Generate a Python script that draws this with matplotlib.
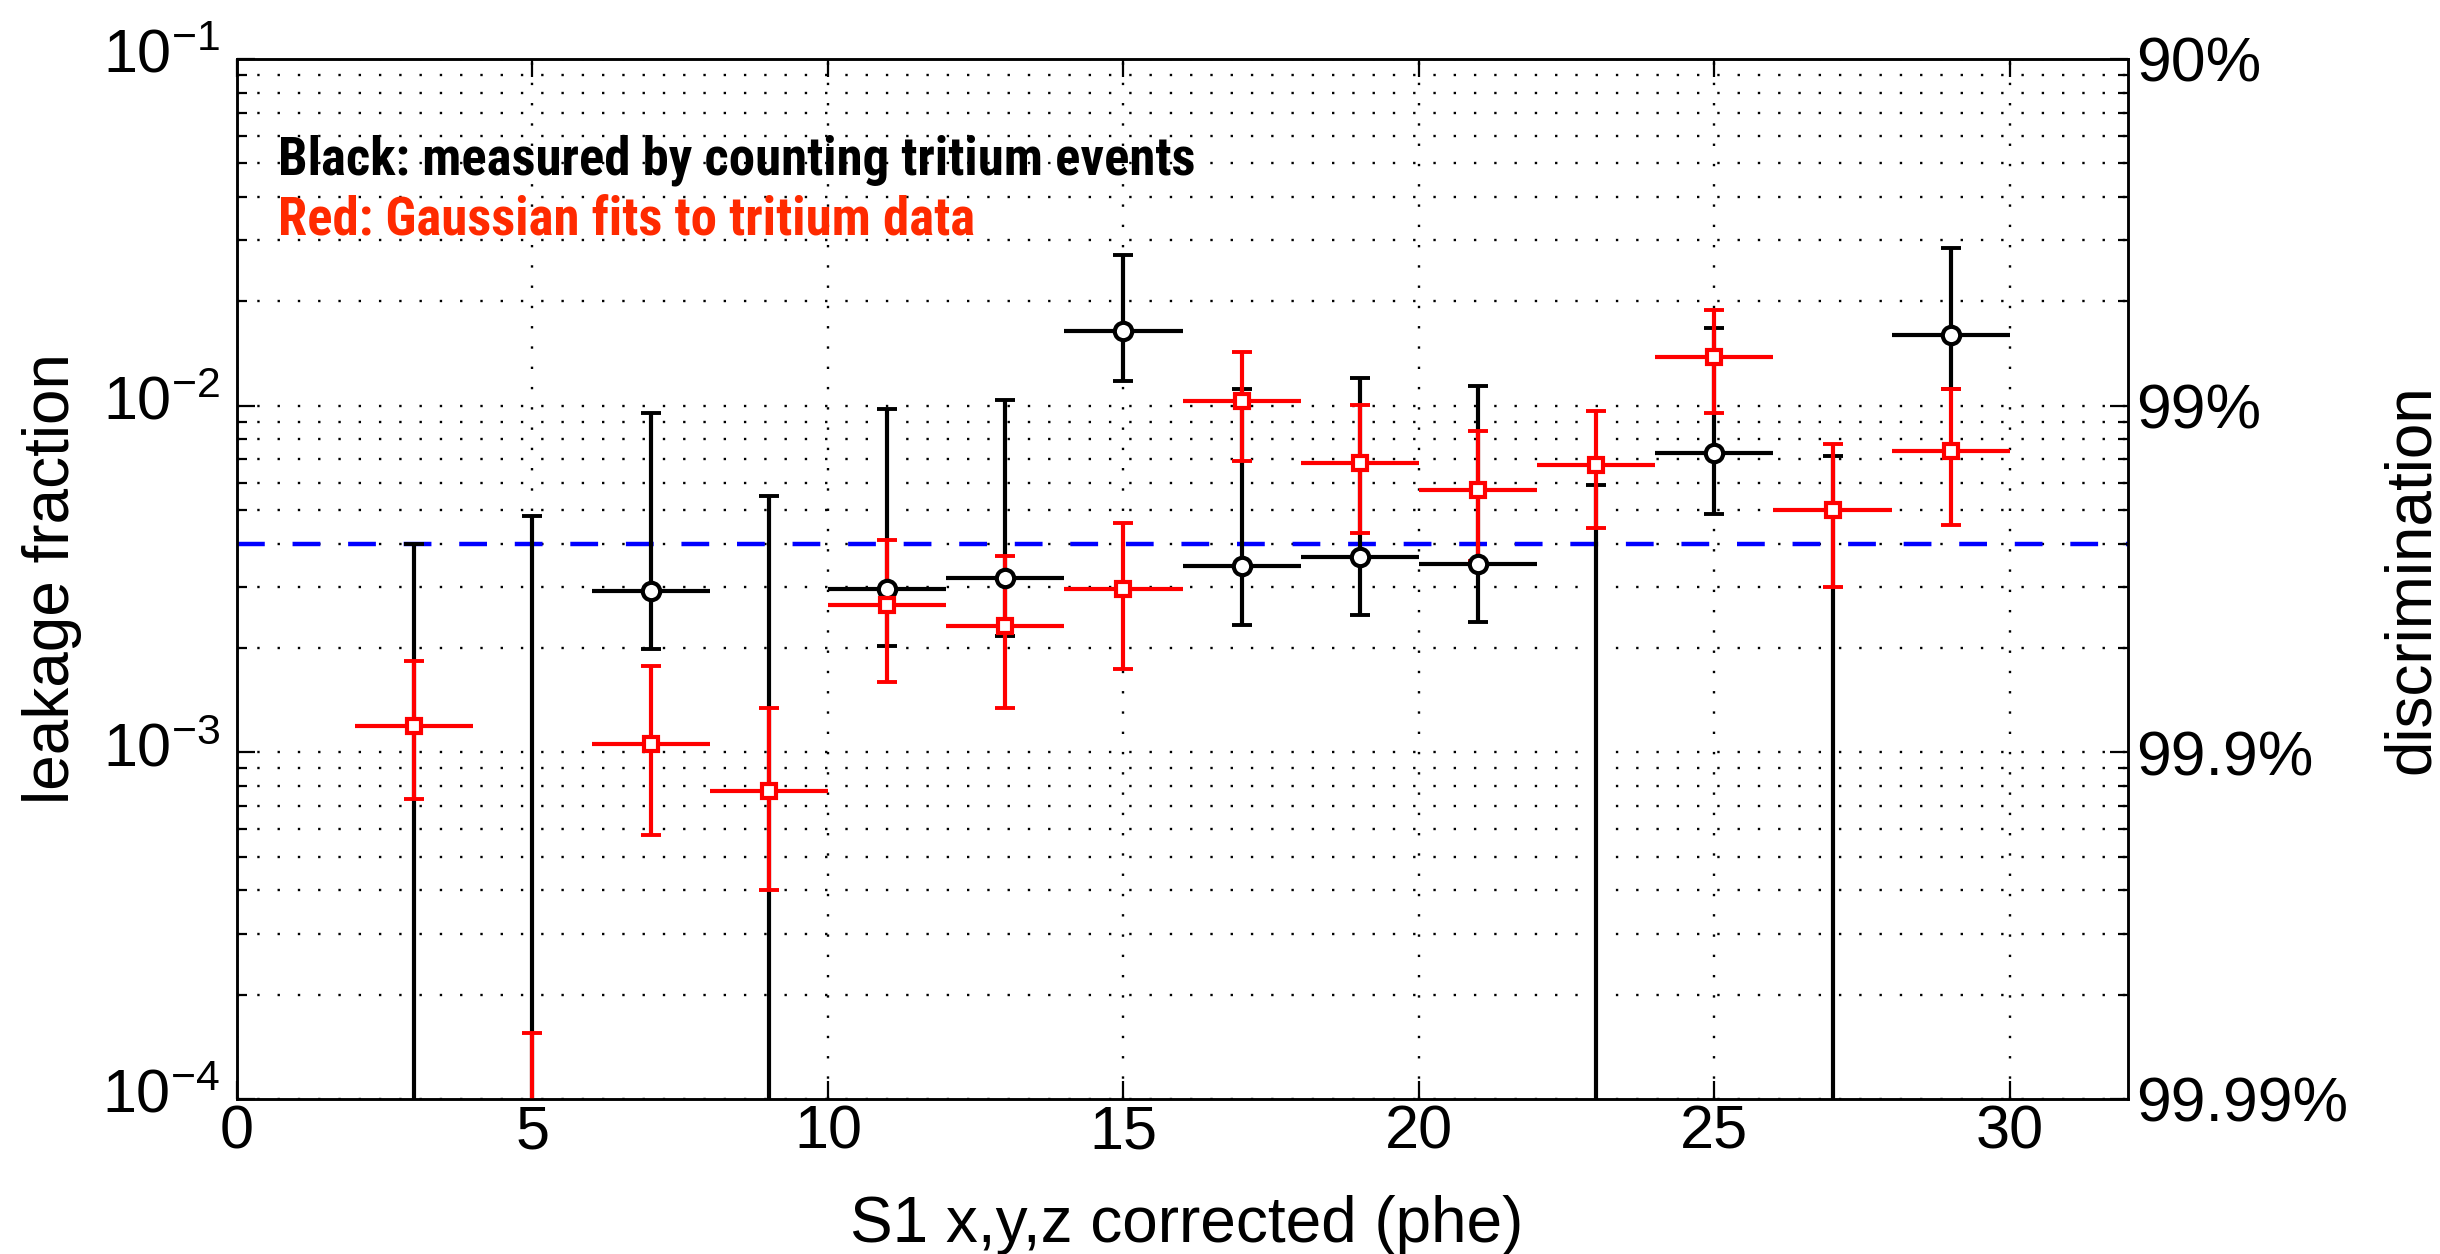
import numpy as np
import matplotlib
matplotlib.use("Agg")
import matplotlib.pyplot as plt
from matplotlib import font_manager
from matplotlib.font_manager import FontProperties
from matplotlib.transforms import ScaledTranslation
from matplotlib.ticker import FixedLocator, FixedFormatter, LogLocator, NullFormatter, NullLocator

plt.rcParams["font.family"] = ["Liberation Sans", "DejaVu Sans"]
plt.rcParams["mathtext.default"] = "regular"
plt.rcParams["lines.scale_dashes"] = False

# S1 bin centres (phe); each bin is 2 phe wide
s1_bins = [3, 5, 7, 9, 11, 13, 15, 17, 19, 21, 23, 25, 27, 29]
bin_halfwidth = 1.0

# Leakage measured by counting tritium events (0 = no events counted)
counted_value = [0, 0, 2.92e-3, 0, 2.96e-3, 3.18e-3, 1.64e-2, 3.44e-3,
                 3.65e-3, 3.50e-3, 0, 7.30e-3, 0, 1.60e-2]
counted_low = [0, 0, 1.98e-3, 0, 2.02e-3, 2.16e-3, 1.18e-2, 2.33e-3,
               2.49e-3, 2.37e-3, 0, 4.87e-3, 0, 1.12e-2]
counted_high = [4.0e-3, 4.8e-3, 9.5e-3, 5.5e-3, 9.75e-3, 1.04e-2, 2.72e-2, 1.12e-2,
                1.20e-2, 1.14e-2, 5.9e-3, 1.68e-2, 7.15e-3, 2.85e-2]

# Leakage from Gaussian fits to the tritium data
gauss_value = [1.19e-3, 0, 1.06e-3, 7.71e-4, 2.66e-3, 2.32e-3, 2.95e-3, 1.03e-2,
               6.82e-3, 5.71e-3, 6.76e-3, 1.38e-2, 5.00e-3, 7.42e-3]
gauss_low = [7.33e-4, 0, 5.78e-4, 4.02e-4, 1.60e-3, 1.34e-3, 1.74e-3, 6.92e-3,
             4.29e-3, 3.57e-3, 4.45e-3, 9.55e-3, 2.99e-3, 4.54e-3]
gauss_high = [1.83e-3, 1.55e-4, 1.78e-3, 1.34e-3, 4.11e-3, 3.69e-3, 4.60e-3, 1.43e-2,
              1.005e-2, 8.47e-3, 9.66e-3, 1.89e-2, 7.74e-3, 1.12e-2]

benchmark_leakage = 4.0e-3

leak_ticks = [1e-4, 1e-3, 1e-2, 1e-1]
disc_labels = ["99.99%", "99.9%", "99%", "90%"]
x_ticks = [0, 5, 10, 15, 20, 25, 30]


def condensed_bold_font():
    """Pick an installed narrow/condensed bold sans face, if there is one."""
    best, best_rank = None, None
    order = ["Liberation Sans Narrow", "Arial Narrow", "Roboto Condensed",
             "Noto Sans", "Open Sans", "Roboto"]
    for e in font_manager.fontManager.ttflist:
        tag = (e.name + " " + str(e.style) + " " + e.fname).lower()
        stretch = str(e.stretch).lower()
        narrow = ("narrow" in tag or "condensed" in tag
                  or stretch in ("condensed", "semi-condensed"))
        if not narrow or "extra" in tag or "ultra" in tag or "semi" in tag:
            continue
        w = e.weight
        bold = (w >= 700) if isinstance(w, (int, float)) else ("bold" in str(w).lower())
        if not bold or "extrabold" in tag or "black" in tag or "italic" in tag:
            continue
        fam_rank = next((i for i, n in enumerate(order) if e.name.startswith(n)), len(order))
        rank = (fam_rank, abs((w if isinstance(w, (int, float)) else 700) - 700))
        if best_rank is None or rank < best_rank:
            best, best_rank = e, rank
    if best is not None:
        return FontProperties(fname=best.fname, size=38)
    return FontProperties(family="Liberation Sans", weight="bold", size=31)


note_font = condensed_bold_font()

fig = plt.figure(figsize=(24.4, 12.54), dpi=100)
W, H = 2440, 1254
left, right, top, bottom = 237, 2128, 59, 1099
ax = fig.add_axes([left / W, 1 - bottom / H, (right - left) / W, (bottom - top) / H])
ax.set_yscale("log")
ax.set_xlim(0, 32)
ax.set_ylim(1e-4, 1e-1)

dots = (0, (1.7, 12.9))
ax.grid(True, which="major", axis="both", color="black", linestyle=dots, linewidth=1.7)
ax.grid(True, which="minor", axis="y", color="black", linestyle=dots, linewidth=1.7)
ax.set_axisbelow(True)

ax.axhline(benchmark_leakage, color="#0000ff", linewidth=3.2,
           linestyle=(0, (20, 20)), zorder=1.5)


def draw_series(values, lows, highs, colour, marker, ms):
    x = np.asarray(s1_bins, float)
    v = np.asarray(values, float)
    lo = np.asarray(lows, float)
    hi = np.asarray(highs, float)
    nz = v > 0
    ax.errorbar(x[nz], v[nz], xerr=bin_halfwidth, fmt="none", ecolor=colour,
                elinewidth=3.0, capsize=0, zorder=3)
    ax.errorbar(x, v, yerr=[v - lo, hi - v], fmt="none", ecolor=colour,
                elinewidth=3.0, capsize=7, capthick=2.8, zorder=3)
    ax.plot(x[nz], v[nz], linestyle="none", marker=marker, ms=ms, mew=3.0,
            mec=colour, mfc="white", zorder=4)


draw_series(counted_value, counted_low, counted_high, "black", "o", 12.5)
draw_series(gauss_value, gauss_low, gauss_high, "#ff0000", "s", 9.5)

ax.set_xticks(x_ticks)
ax.xaxis.set_minor_locator(NullLocator())
ax.yaxis.set_major_locator(FixedLocator(leak_ticks))
ax.tick_params(axis="both", which="major", direction="in", length=13, width=1.6,
               labelsize=44, top=True, right=False)
ax.tick_params(axis="y", which="minor", direction="in", length=7, width=1.6,
               left=True, right=False)
ax.tick_params(axis="x", pad=4)
ax.tick_params(axis="y", pad=12)
for s in ax.spines.values():
    s.set_linewidth(1.8)

# keep the mantissa of each power-of-ten label level with its tick
for tick in ax.yaxis.get_major_ticks():
    lab = tick.label1
    lab.set_transform(lab.get_transform() + ScaledTranslation(0, 6 / 72, fig.dpi_scale_trans))

ax.set_xlabel("S1 x,y,z corrected (phe)", fontsize=46)
ax.xaxis.label.set_va("baseline")
ax.xaxis.set_label_coords(0.502, -(1242 - bottom) / (bottom - top))
ax.set_ylabel("leakage fraction", fontsize=46)
ax.yaxis.set_label_coords(-(237 - 82) / (right - left), 0.5)

ax.text(0.0217, 0.8885, "Black: measured by counting tritium events",
        transform=ax.transAxes, fontproperties=note_font,
        color="black", ha="left", va="baseline", zorder=5)
ax.text(0.0217, 0.8308, "Red: Gaussian fits to tritium data",
        transform=ax.transAxes, fontproperties=note_font,
        color="#ff2a00", ha="left", va="baseline", zorder=5)

ax2 = ax.twinx()
ax2.set_yscale("log")
ax2.set_ylim(1e-4, 1e-1)
ax2.yaxis.set_major_locator(FixedLocator(leak_ticks))
ax2.yaxis.set_major_formatter(FixedFormatter(disc_labels))
ax2.yaxis.set_minor_locator(LogLocator(base=10, subs=np.arange(2, 10)))
ax2.yaxis.set_minor_formatter(NullFormatter())
ax2.tick_params(which="major", direction="in", length=13, width=1.6,
                labelsize=45, pad=6)
ax2.tick_params(which="minor", direction="in", length=7, width=1.6)
for s in ax2.spines.values():
    s.set_linewidth(1.8)
ax2.set_ylabel("discrimination", fontsize=46)
ax2.yaxis.set_label_coords((2382 - left) / (right - left), 0.5)

fig.savefig("out.png", dpi=100)
